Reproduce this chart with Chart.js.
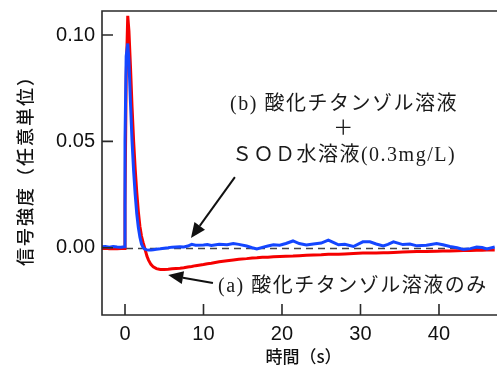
<!DOCTYPE html>
<html><head><meta charset="utf-8">
<script src="https://cdn.jsdelivr.net/npm/chart.js@4/dist/chart.umd.min.js"></script>
<style>html,body{margin:0;padding:0;background:#fff;overflow:hidden}</style>
</head><body>
<canvas id="c" width="497" height="367"></canvas>
<script>
// ---- data ----
const timeS = [-3,-2.5,-2,-1.5,-1,-0.5,-0.1,0.0,0.15,0.35,0.5,0.7,0.9,1.1,1.3,1.5,1.7,1.9,2.1,2.3,2.5,2.8,3.0,3.3,3.6,4.0,4.5,5,5.5,6,7,7.5,8,8.5,9,10,10.5,11,12,13,13.8,14.5,15.5,16.2,16.8,17.5,18.2,18.9,19.7,20.5,21.4,22.2,23.1,24,25,25.9,26.6,27.2,28,29.1,30.3,31.2,32,32.9,33.5,34.2,35.4,36.3,37.2,38.4,39.7,40.5,41.4,42.3,43.1,44,44.8,45.5,46.1,47.1];
// (b) titanium oxide sol + SOD (blue)
const signalB = [0.0004,0.0006,0.0003,0.0006,0.0004,0.0003,0.0005,0.05,0.09,0.096,0.088,0.068,0.05,0.036,0.025,0.016,0.0095,0.005,0.0018,0.0002,-0.0006,-0.001,-0.0011,-0.0011,-0.0009,-0.0007,-0.0005,-0.0002,0.0,0.0003,0.0005,0.0004,0.0008,0.0016,0.0012,0.0013,0.0015,0.0011,0.0016,0.0014,0.002,0.0016,0.0008,0.0,-0.0006,0.0002,0.0008,0.0014,0.0012,0.002,0.0032,0.002,0.0013,0.0018,0.0022,0.0036,0.0024,0.0014,0.0016,0.0006,0.0028,0.0028,0.0018,0.0009,0.0016,0.0028,0.0015,0.0018,0.0009,0.0012,0.002,0.0014,0.0006,0.0,-0.0008,-0.0004,0.0003,0.0001,-0.0005,0.0004];
// (a) titanium oxide sol only (red)
const signalA = [-0.0003,-0.0002,-0.0004,-0.0003,-0.0004,-0.0003,-0.0003,0.02,0.08,0.109,0.102,0.085,0.066,0.05,0.037,0.026,0.017,0.010,0.0055,0.0025,0.0,-0.004,-0.0058,-0.0078,-0.009,-0.0098,-0.0102,-0.0102,-0.0101,-0.0099,-0.0096,-0.0094,-0.009,-0.0088,-0.0084,-0.0079,-0.0075,-0.0073,-0.0066,-0.0061,-0.0057,-0.0054,-0.0051,-0.0048,-0.0047,-0.0045,-0.0044,-0.0042,-0.0041,-0.004,-0.0039,-0.0037,-0.0035,-0.0034,-0.0033,-0.0031,-0.003,-0.003,-0.0029,-0.0027,-0.0025,-0.0025,-0.0024,-0.0023,-0.0023,-0.0022,-0.002,-0.0019,-0.0018,-0.0017,-0.0016,-0.0015,-0.0015,-0.0014,-0.0013,-0.0013,-0.0012,-0.0012,-0.0011,-0.0011];
const xTicks = [0,10,20,30,40];
const yTicks = [0,0.05,0.10];
const xTitle = '時間（s）';
const yTitle = '信号強度（任意単位）';
const labelB = ['(b) 酸化チタンゾル溶液','＋','ＳＯＤ水溶液(0.3mg/L)'];
const labelA = '(a) 酸化チタンゾル溶液のみ';

const FRAME = '#2a2a2a';

function arrow(ctx, x1, y1, x2, y2){
  const a = Math.atan2(y2-y1, x2-x1), L = 15, W = 6.5;
  const bx = x2 - L*Math.cos(a), by = y2 - L*Math.sin(a);
  ctx.beginPath(); ctx.moveTo(x1,y1); ctx.lineTo(bx,by); ctx.stroke();
  ctx.beginPath();
  ctx.moveTo(x2,y2);
  ctx.lineTo(bx + W*Math.sin(a), by - W*Math.cos(a));
  ctx.lineTo(bx - W*Math.sin(a), by + W*Math.cos(a));
  ctx.closePath(); ctx.fill();
}

const deco = {
  id:'deco',
  beforeDatasetsDraw(chart){
    const {ctx, chartArea:a, scales:{y}} = chart;
    ctx.save();
    ctx.strokeStyle = '#444'; ctx.lineWidth = 1.5; ctx.setLineDash([7,5]);
    const y0 = Math.round(y.getPixelForValue(0))+0.5;
    ctx.beginPath(); ctx.moveTo(a.left, y0); ctx.lineTo(a.right, y0); ctx.stroke();
    ctx.restore();
  },
  afterDraw(chart){
    const {ctx, chartArea:a, scales:{x,y}} = chart;
    ctx.save();
    ctx.strokeStyle = FRAME; ctx.lineWidth = 1.6;
    ctx.beginPath();
    ctx.moveTo(a.right+2, a.top); ctx.lineTo(a.left, a.top); ctx.lineTo(a.left, a.bottom); ctx.lineTo(a.right+2, a.bottom);
    ctx.stroke();
    // inward ticks
    ctx.beginPath();
    yTicks.forEach(v=>{const p=y.getPixelForValue(v); ctx.moveTo(a.left,p); ctx.lineTo(a.left+11,p);});
    xTicks.forEach(v=>{const p=x.getPixelForValue(v); ctx.moveTo(p,a.bottom); ctx.lineTo(p,a.bottom-11);});
    ctx.stroke();
    // axis titles
    ctx.fillStyle = '#111';
    ctx.font = '500 17px "Noto Sans CJK JP"';
    ctx.textAlign = 'center'; ctx.textBaseline = 'middle';
    ctx.fillText(xTitle, (a.left+a.right)/2 + 4, 357);
    ctx.save();
    ctx.translate(25, (a.top+a.bottom)/2 + 3);
    ctx.rotate(-Math.PI/2);
    ctx.font = '500 18px "Noto Sans CJK JP"';
    ctx.letterSpacing = '2px';
    ctx.fillText(yTitle, 0, 0);
    ctx.restore();
    // annotations
    ctx.font = '20px "Liberation Serif", "Noto Sans CJK JP"';
    ctx.letterSpacing = '1.5px';
    ctx.fillStyle = '#1a1a1a';
    const bx = x.getPixelForValue(27.9);
    ctx.fillText(labelB[0], bx, y.getPixelForValue(0.0671));
    ctx.fillText(labelB[1], bx, y.getPixelForValue(0.0553));
    ctx.fillText(labelB[2], bx, y.getPixelForValue(0.0431));
    ctx.textAlign = 'left';
    ctx.fillText(labelA, x.getPixelForValue(11.85), y.getPixelForValue(-0.0185));
    ctx.letterSpacing = '0px';
    ctx.strokeStyle = '#111'; ctx.fillStyle = '#111'; ctx.lineWidth = 2;
    arrow(ctx, x.getPixelForValue(14.0), y.getPixelForValue(0.0332), x.getPixelForValue(8.4), y.getPixelForValue(0.0046));
    arrow(ctx, x.getPixelForValue(11.2), y.getPixelForValue(-0.0166), x.getPixelForValue(5.5), y.getPixelForValue(-0.0128));
    ctx.restore();
  }
};

const tickFont = {family:'"Liberation Sans", Arial, sans-serif', size:20};
new Chart(document.getElementById('c'), {
  type:'line',
  data:{datasets:[
    {label:'(b)', data: timeS.map((t,i)=>({x:t,y:signalB[i]})), borderColor:'#1446ff', borderWidth:3, pointRadius:0, tension:0, fill:false},
    {label:'(a)', data: timeS.map((t,i)=>({x:t,y:signalA[i]})), borderColor:'#f50000', borderWidth:3, pointRadius:0, tension:0, fill:false}
  ]},
  options:{
    responsive:false, animation:false, devicePixelRatio:1,
    layout:{padding:{left:0,top:11,right:0,bottom:0}},
    plugins:{legend:{display:false}, tooltip:{enabled:false}},
    scales:{
      x:{type:'linear', min:-2.93, max:47.39,
         grid:{display:false, drawTicks:false}, border:{display:false},
         afterBuildTicks:s=>{s.ticks = xTicks.map(v=>({value:v}));},
         afterFit:s=>{s.height = 52; s.paddingLeft = 0; s.paddingRight = 0;},
         ticks:{font:tickFont, color:'#111', padding:7, maxRotation:0, autoSkip:false}},
      y:{type:'linear', min:-0.0316, max:0.1113,
         grid:{display:false, drawTicks:false}, border:{display:false},
         afterBuildTicks:s=>{s.ticks = yTicks.map(v=>({value:v}));},
         afterFit:s=>{s.width = 102; s.paddingTop = 0; s.paddingBottom = 0;},
         ticks:{font:tickFont, color:'#111', padding:7, callback:v=>Number(v).toFixed(2)}}
    }
  },
  plugins:[deco]
});
</script>
</body></html>
